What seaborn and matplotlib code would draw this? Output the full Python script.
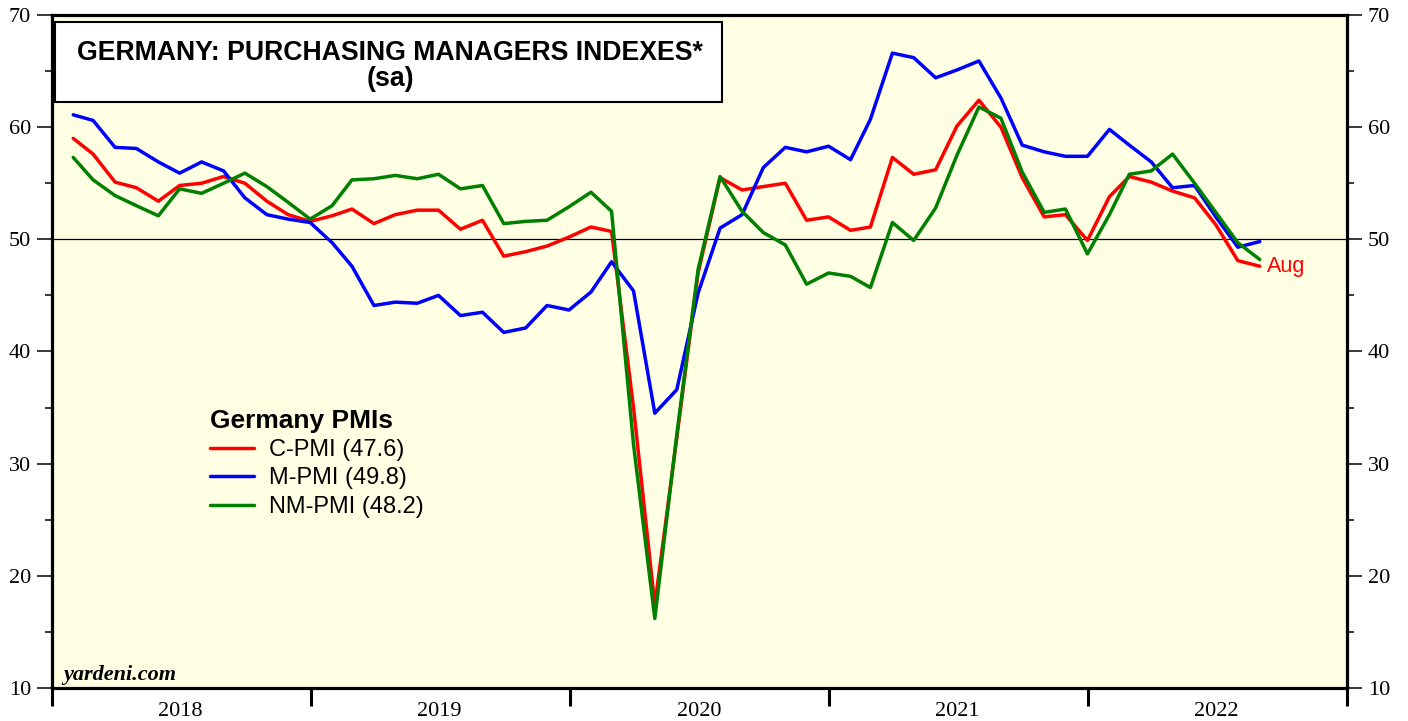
import pandas as pd
import matplotlib.pyplot as plt
from matplotlib.patches import Rectangle
import seaborn as sns

# monthly, Jan 2018 - Aug 2022
months = pd.date_range('2018-01-31', periods=56, freq='ME')

c_pmi = [59.0, 57.6, 55.1, 54.6, 53.4, 54.8, 55.0, 55.6, 55.0, 53.4, 52.2, 51.6,
         52.1, 52.7, 51.4, 52.2, 52.6, 52.6, 50.9, 51.7, 48.5, 48.9, 49.4, 50.2,
         51.1, 50.7, 35.0, 17.4, 32.3, 47.0, 55.5, 54.4, 54.7, 55.0, 51.7, 52.0,
         50.8, 51.1, 57.3, 55.8, 56.2, 60.1, 62.4, 60.0, 55.5, 52.0, 52.2, 49.9,
         53.8, 55.6, 55.1, 54.3, 53.7, 51.3, 48.1, 47.6]
m_pmi = [61.1, 60.6, 58.2, 58.1, 56.9, 55.9, 56.9, 56.1, 53.7, 52.2, 51.8, 51.5,
         49.7, 47.6, 44.1, 44.4, 44.3, 45.0, 43.2, 43.5, 41.7, 42.1, 44.1, 43.7,
         45.3, 48.0, 45.4, 34.5, 36.6, 45.2, 51.0, 52.2, 56.4, 58.2, 57.8, 58.3,
         57.1, 60.7, 66.6, 66.2, 64.4, 65.1, 65.9, 62.6, 58.4, 57.8, 57.4, 57.4,
         59.8, 58.4, 56.9, 54.6, 54.8, 52.0, 49.3, 49.8]
nm_pmi = [57.3, 55.3, 53.9, 53.0, 52.1, 54.5, 54.1, 55.0, 55.9, 54.7, 53.3, 51.8,
          53.0, 55.3, 55.4, 55.7, 55.4, 55.8, 54.5, 54.8, 51.4, 51.6, 51.7, 52.9,
          54.2, 52.5, 31.7, 16.2, 32.6, 47.3, 55.6, 52.5, 50.6, 49.5, 46.0, 47.0,
          46.7, 45.7, 51.5, 49.9, 52.8, 57.5, 61.8, 60.8, 56.0, 52.4, 52.7, 48.7,
          52.2, 55.8, 56.1, 57.6, 55.0, 52.4, 49.7, 48.2]

series_names = ['C-PMI (47.6)', 'M-PMI (49.8)', 'NM-PMI (48.2)']
series_colors = ['#ff0000', '#0000ff', '#007f00']
years = ['2018', '2019', '2020', '2021', '2022']

df = pd.DataFrame({'date': months, series_names[0]: c_pmi,
                   series_names[1]: m_pmi, series_names[2]: nm_pmi})
df = df.melt('date', var_name='series', value_name='pmi')

sns.set_style('ticks')
plt.rcParams['font.family'] = ['Liberation Sans', 'DejaVu Sans']
plt.rcParams.update({'text.color': 'black', 'axes.labelcolor': 'black',
                     'xtick.color': 'black', 'ytick.color': 'black'})

fig = plt.figure(figsize=(14.08, 7.21), dpi=100)
ax = fig.add_axes([0.0369, 0.0458, 0.9198, 0.9334])
ax.set_facecolor('#ffffe3')

ax.axhline(50, color='black', lw=0.9, zorder=1)
sns.lineplot(data=df, x='date', y='pmi', hue='series', palette=series_colors,
             linewidth=2.5, ax=ax, zorder=3)

ax.set_xlim(pd.Timestamp('2018-01-01'), pd.Timestamp('2023-01-01'))
ax.set_ylim(10, 70)
ax.set_xlabel('')
ax.set_ylabel('')

# year separators as major ticks, year names centred as minor ticks
ax.set_xticks([pd.Timestamp(f'{y}-01-01') for y in range(2018, 2024)], labels=[''] * 6)
ax.set_xticks([pd.Timestamp(f'{y}-07-01') for y in years], labels=years, minor=True)
ax.set_yticks(range(10, 71, 10))
ax.set_yticks(range(15, 70, 10), minor=True)

ax.tick_params(axis='x', which='major', length=13, width=2.2, direction='out')
ax.tick_params(axis='x', which='minor', length=0, pad=10, labelsize=16)
ax.tick_params(axis='y', which='major', length=11, width=1.1, direction='out',
               right=True, labelright=True, labelsize=16, pad=4)
ax.tick_params(axis='y', which='minor', length=5, width=1.1, direction='out', right=True)
for lab in ax.get_xticklabels(minor=True) + ax.get_yticklabels():
    lab.set_family('Liberation Serif')

for sp in ax.spines.values():
    sp.set_visible(True)
    sp.set_linewidth(2.3)
    sp.set_color('black')

# title box
fig.patches.append(Rectangle((0.0391, 0.8585), 0.4737, 0.111, transform=fig.transFigure,
                             facecolor='white', edgecolor='black', lw=1.5, zorder=5))
fig.text(0.277, 0.927, 'GERMANY: PURCHASING MANAGERS INDEXES*', ha='center', va='center',
         fontsize=19.2, fontweight='bold', zorder=6)
fig.text(0.277, 0.890, '(sa)', ha='center', va='center', fontsize=19.2,
         fontweight='bold', zorder=6)

# legend
handles, labels = ax.get_legend_handles_labels()
leg = ax.legend(handles, labels, title='Germany PMIs', loc='upper left',
                bbox_to_anchor=(0.122, 0.415), frameon=False, fontsize=17,
                title_fontproperties={'weight': 'bold', 'size': 19},
                alignment='left', borderpad=0, borderaxespad=0, handlelength=1.85,
                handletextpad=0.65, labelspacing=0.27)
for line in leg.get_lines():
    line.set_linewidth(2.5)

ax.annotate('Aug', xy=(months[-1], c_pmi[-1]), xytext=(5, 0), textcoords='offset points',
            color='#ff0000', fontsize=15.5, va='center', ha='left')
ax.text(0.009, 0.012, 'yardeni.com', transform=ax.transAxes, fontsize=16,
        family='Liberation Serif', fontweight='bold', style='italic')

fig.savefig('out.png', dpi=100)
